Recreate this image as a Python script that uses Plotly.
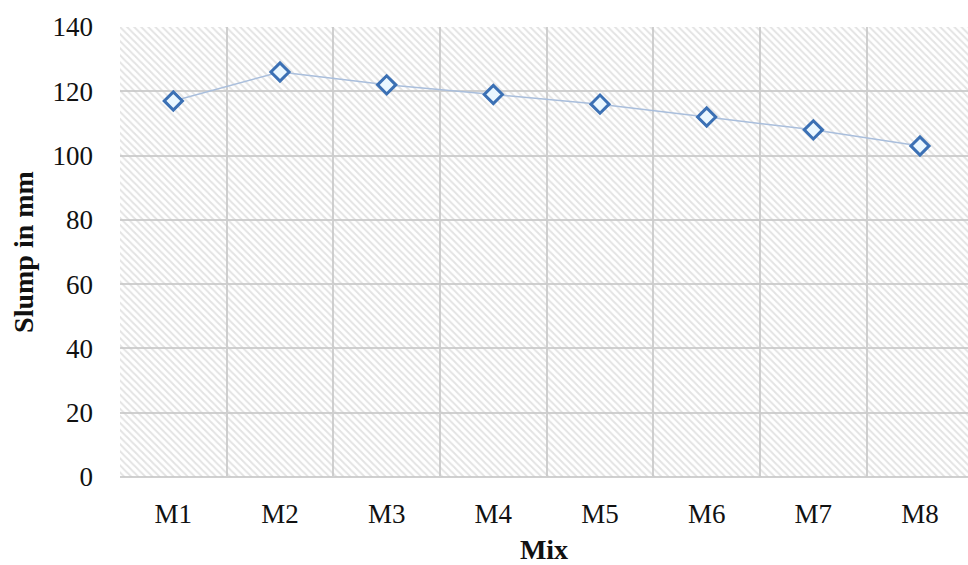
import plotly.graph_objects as go

mixes = ["M1", "M2", "M3", "M4", "M5", "M6", "M7", "M8"]
slump_mm = [117, 126, 122, 119, 116, 112, 108, 103]
y_max = 140
y_ticks = [0, 20, 40, 60, 80, 100, 120, 140]

FONT = "Liberation Serif"

fig = go.Figure()

# hatched plot-area background (one full-width bar per category)
fig.add_trace(go.Bar(
    x=mixes, y=[y_max] * len(mixes), width=1,
    marker=dict(color="rgba(0,0,0,0)", line=dict(width=0),
                pattern=dict(shape="\\", fgcolor="#c8c8c8", bgcolor="rgba(0,0,0,0)",
                             size=5, solidity=0.4)),
    hoverinfo="skip", showlegend=False,
))

fig.add_trace(go.Scatter(
    x=mixes, y=slump_mm, mode="lines+markers",
    line=dict(color="#a9bedc", width=1.5),
    marker=dict(symbol="diamond", size=14, color="#eaf7ff",
                line=dict(color="#3b70b4", width=3)),
    showlegend=False,
))

fig.update_layout(
    width=968, height=565,
    margin=dict(l=120, r=0, t=27, b=88),
    paper_bgcolor="white", plot_bgcolor="white",
    bargap=0,
    font=dict(family=FONT, size=27, color="#111111"),
    xaxis=dict(
        type="category", range=[-0.5, 7.45], tickson="boundaries",
        showgrid=True, gridcolor="#d0d0d0", gridwidth=1.5,
        ticks="", showline=False, zeroline=False,
        ticklabelstandoff=18,
        title=dict(text="<b>Mix</b>", font=dict(family=FONT, size=28, color="#111111"), standoff=11),
    ),
    yaxis=dict(
        range=[0, y_max], tickvals=y_ticks,
        showgrid=True, gridcolor="#d0d0d0", gridwidth=1.5,
        zeroline=True, zerolinecolor="#d0d0d0", zerolinewidth=1.5,
        showline=False, ticks="",
        ticklabelstandoff=26,
        title=dict(text="<b>Slump in mm</b>", font=dict(family=FONT, size=28, color="#111111"), standoff=10),
    ),
)

fig.write_html("out.html")
